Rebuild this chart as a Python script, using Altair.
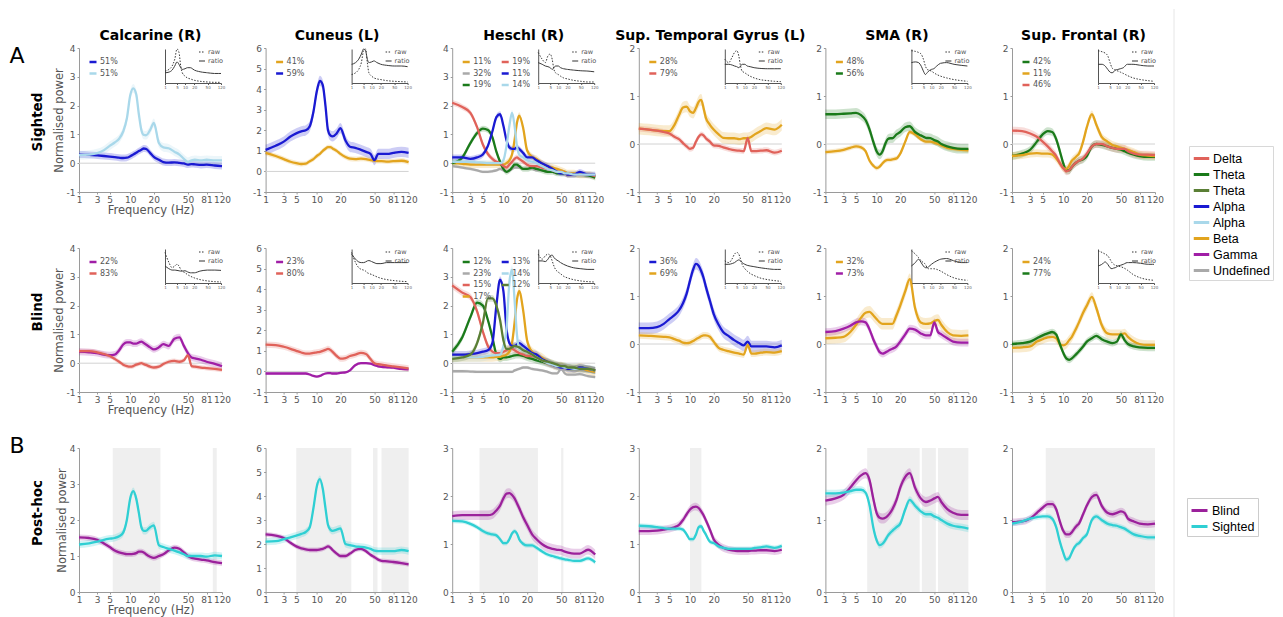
import altair as alt
import pandas as pd

# ---------------- data ----------------
F = [1, 2, 3, 4, 5, 6, 7, 8, 9, 10, 11, 12, 13, 14, 15, 16, 18, 20, 23, 26, 30, 35, 40, 45, 50, 55, 60, 70, 81, 100, 120]
XTICKS = [1, 3, 5, 10, 20, 50, 81, 120]
F_IN = [1, 2, 3, 4, 5, 6, 7, 8, 10, 12, 15, 20, 30, 50, 80, 120]
IN_TICKS = [1, 5, 10, 20, 50, 120]

REGIONS = ["Calcarine (R)", "Cuneus (L)", "Heschl (R)", "Sup. Temporal Gyrus (L)", "SMA (R)", "Sup. Frontal (R)"]
ROW_LABELS = ["Sighted", "Blind", "Post-hoc"]
YMAX_AB = [4, 6, 4, 2, 2, 2]
YMAX_POST = [4, 6, 3, 3, 2, 2]

BANDS = ["Delta", "Theta", "Theta ", "Alpha", "Alpha ", "Beta", "Gamma", "Undefined"]
BAND_COLORS = ["#e0625a", "#1a7a1a", "#5a7f35", "#1a1ad2", "#a9d8ea", "#e2a41e", "#a01ea6", "#a9a9a9"]
GROUPS = ["Blind", "Sighted"]
GROUP_COLORS = ["#9b219b", "#2fcfd3"]

# Sighted row
CALC_S_A1 = [0.30,0.29,0.27,0.25,0.23,0.21,0.19,0.18,0.19,0.24,0.30,0.36,0.42,0.47,0.51,0.50,0.36,0.22,0.12,0.04,0.02,0.03,0.01,-0.01,-0.05,-0.03,-0.04,-0.06,-0.05,-0.08,-0.10]
CALC_S_A2 = [0.28,0.30,0.35,0.45,0.60,0.72,0.85,1.10,1.55,2.35,2.60,2.40,1.70,1.15,0.98,0.97,1.15,1.40,0.70,0.55,0.52,0.40,0.30,0.15,0.05,0.10,0.12,0.10,0.12,0.10,0.10]
CUN_S_B = [0.90,0.75,0.60,0.47,0.40,0.36,0.38,0.50,0.60,0.75,0.85,1.00,1.10,1.18,1.18,1.12,1.00,0.85,0.70,0.62,0.60,0.62,0.60,0.55,0.52,0.50,0.50,0.48,0.50,0.52,0.45]
CUN_S_A = [1.05,1.25,1.45,1.70,1.85,1.95,2.00,2.20,2.90,3.90,4.40,4.20,3.20,2.00,1.75,1.70,1.85,2.10,1.50,1.20,1.15,1.05,0.95,0.85,0.55,0.85,0.85,0.85,0.90,0.95,0.90]
HES_S_BETA = [0.00,-0.02,-0.05,-0.05,-0.05,-0.05,-0.05,-0.05,-0.05,-0.05,0.00,0.10,0.30,0.80,1.40,1.65,1.20,0.45,0.22,0.15,0.00,-0.10,-0.15,-0.20,-0.25,-0.30,-0.35,-0.35,-0.40,-0.40,-0.45]
HES_S_DELTA = [2.10,1.95,1.75,1.25,0.65,0.32,0.15,0.05,0.00,-0.10,-0.15,-0.05,0.05,0.15,0.20,0.15,0.05,-0.05,-0.10,-0.10,-0.15,-0.20,-0.25,-0.30,-0.30,-0.35,-0.40,-0.40,-0.40,-0.40,-0.45]
HES_S_UND = [-0.10,-0.15,-0.20,-0.25,-0.30,-0.30,-0.28,-0.25,-0.20,-0.25,-0.30,-0.25,-0.20,-0.15,-0.15,-0.15,-0.20,-0.20,-0.20,-0.25,-0.25,-0.30,-0.30,-0.35,-0.35,-0.40,-0.40,-0.40,-0.40,-0.45,-0.45]
HES_S_ALPHA = [0.20,0.20,0.15,0.20,0.30,0.60,1.10,1.60,1.70,1.30,0.80,0.55,0.50,0.50,0.55,0.50,0.35,0.20,0.20,0.10,0.00,-0.10,-0.20,-0.30,-0.35,-0.35,-0.40,-0.40,-0.30,-0.40,-0.40]
HES_S_THETA = [0.00,0.20,0.70,1.05,1.20,1.15,0.90,0.40,0.05,-0.20,-0.30,-0.25,-0.15,-0.05,-0.05,-0.10,-0.20,-0.20,-0.15,-0.20,-0.25,-0.30,-0.30,-0.35,-0.35,-0.35,-0.40,-0.40,-0.40,-0.42,-0.50]
HES_S_ALPHA2 = [0.05,0.05,0.05,0.03,0.02,0.00,0.00,0.00,0.00,0.10,0.60,1.30,1.75,1.30,0.60,0.30,0.20,0.10,0.05,0.00,-0.10,-0.20,-0.25,-0.30,-0.30,-0.35,-0.35,-0.40,-0.40,-0.40,-0.40]
STG_S_BETA = [0.32,0.30,0.28,0.27,0.27,0.40,0.60,0.76,0.78,0.68,0.65,0.75,0.88,0.92,0.75,0.55,0.40,0.30,0.20,0.13,0.12,0.12,0.10,0.12,0.12,0.15,0.20,0.27,0.33,0.30,0.40]
STG_S_DELTA = [0.32,0.30,0.28,0.25,0.22,0.15,0.10,0.02,-0.05,-0.10,-0.08,0.05,0.15,0.20,0.18,0.12,0.05,-0.03,-0.04,-0.07,-0.10,-0.13,-0.14,-0.15,0.12,-0.15,-0.15,-0.14,-0.13,-0.18,-0.14]
SMA_S_BETA = [-0.17,-0.15,-0.12,-0.08,-0.05,-0.07,-0.15,-0.35,-0.45,-0.50,-0.47,-0.40,-0.35,-0.33,-0.33,-0.32,-0.30,-0.20,0.05,0.25,0.20,0.10,0.05,0.05,0.03,0.00,-0.03,-0.08,-0.10,-0.12,-0.13]
SMA_S_THETA = [0.62,0.62,0.63,0.64,0.65,0.60,0.50,0.30,0.05,-0.15,-0.22,-0.15,0.00,0.10,0.12,0.12,0.20,0.25,0.35,0.37,0.25,0.18,0.13,0.12,0.08,0.05,0.00,-0.05,-0.08,-0.10,-0.10]
SF_S_THETA = [-0.25,-0.20,-0.12,0.05,0.20,0.27,0.25,0.10,-0.15,-0.40,-0.55,-0.55,-0.48,-0.42,-0.38,-0.35,-0.32,-0.25,-0.05,0.00,-0.02,-0.05,-0.08,-0.10,-0.12,-0.15,-0.18,-0.22,-0.25,-0.27,-0.27]
SF_S_BETA = [-0.25,-0.23,-0.20,-0.19,-0.20,-0.20,-0.22,-0.30,-0.40,-0.50,-0.52,-0.45,-0.35,-0.30,-0.25,-0.20,0.05,0.35,0.62,0.40,0.15,0.05,-0.02,-0.05,-0.08,-0.10,-0.12,-0.17,-0.22,-0.24,-0.25]
SF_S_DELTA = [0.28,0.27,0.22,0.15,0.05,-0.05,-0.15,-0.25,-0.40,-0.50,-0.57,-0.55,-0.48,-0.42,-0.38,-0.35,-0.30,-0.20,-0.05,0.00,0.00,-0.05,-0.08,-0.10,-0.10,-0.10,-0.15,-0.20,-0.22,-0.22,-0.23]

# Blind row
CALC_B_GAMMA = [0.40,0.38,0.35,0.30,0.28,0.30,0.45,0.65,0.72,0.72,0.68,0.68,0.72,0.75,0.70,0.65,0.55,0.48,0.55,0.66,0.60,0.85,0.90,0.60,0.35,0.20,0.17,0.12,0.05,-0.02,-0.10]
CALC_B_DELTA = [0.42,0.42,0.38,0.32,0.25,0.15,0.05,-0.05,-0.10,-0.12,-0.10,-0.05,-0.02,0.00,-0.03,-0.06,-0.12,-0.15,-0.12,-0.03,0.05,0.08,0.05,0.10,0.28,-0.10,-0.12,-0.15,-0.17,-0.20,-0.23]
CUN_B_GAMMA = [-0.10,-0.10,-0.10,-0.10,-0.10,-0.10,-0.10,-0.15,-0.22,-0.25,-0.22,-0.15,-0.10,-0.08,-0.08,-0.10,-0.10,-0.07,-0.05,0.05,0.30,0.40,0.40,0.38,0.30,0.25,0.22,0.20,0.18,0.12,0.10]
CUN_B_DELTA = [1.30,1.28,1.20,1.10,1.00,0.92,0.87,0.87,0.90,0.93,0.95,1.00,1.05,1.10,1.05,0.95,0.75,0.62,0.65,0.75,0.82,0.90,0.85,0.60,0.40,0.35,0.33,0.28,0.25,0.20,0.15]
HES_B_THETA = [0.40,0.90,1.60,2.10,2.00,1.50,0.90,0.30,0.15,0.20,0.20,0.22,0.25,0.27,0.28,0.28,0.25,0.20,0.15,0.10,0.05,0.00,-0.05,-0.10,-0.10,-0.15,-0.15,-0.20,-0.15,-0.20,-0.25]
HES_B_ALPHA = [0.30,0.30,0.32,0.35,0.40,0.45,0.70,2.00,2.90,2.50,1.20,0.70,0.60,0.60,0.65,0.70,0.60,0.50,0.35,0.30,0.15,0.05,-0.05,-0.10,-0.15,-0.15,-0.20,-0.20,-0.15,-0.20,-0.25]
HES_B_UND = [-0.28,-0.28,-0.29,-0.30,-0.30,-0.30,-0.30,-0.30,-0.30,-0.30,-0.30,-0.30,-0.30,-0.25,-0.22,-0.20,-0.15,-0.15,-0.20,-0.22,-0.25,-0.30,-0.35,-0.35,-0.20,-0.35,-0.40,-0.40,-0.38,-0.45,-0.48]
HES_B_ALPHA2 = [0.20,0.20,0.20,0.20,0.22,0.25,0.27,0.28,0.30,0.60,1.20,2.80,3.25,2.20,1.00,0.50,0.45,0.40,0.30,0.20,0.10,0.00,-0.05,-0.10,-0.10,-0.15,-0.15,-0.20,-0.20,-0.20,-0.25]
HES_B_DELTA = [2.70,2.45,2.30,1.80,1.10,0.60,0.40,0.35,0.35,0.40,0.45,0.50,0.50,0.45,0.40,0.35,0.30,0.25,0.25,0.20,0.10,0.00,-0.05,-0.10,-0.10,-0.15,-0.15,-0.20,-0.20,-0.20,-0.25]
HES_B_THETA2 = [0.15,0.20,0.30,0.70,1.40,2.25,2.25,2.00,1.50,0.80,0.50,0.50,0.55,0.60,0.58,0.55,0.45,0.40,0.30,0.20,0.10,0.05,0.00,-0.05,-0.10,-0.10,-0.15,-0.15,-0.20,-0.20,-0.25]
HES_B_BETA = [0.20,0.20,0.20,0.20,0.20,0.20,0.20,0.22,0.23,0.25,0.30,0.40,0.70,1.40,2.20,2.50,1.80,0.80,0.40,0.30,0.20,0.05,-0.05,-0.10,-0.10,-0.15,-0.20,-0.20,-0.15,-0.25,-0.30]
STG_B_ALPHA = [0.33,0.33,0.35,0.42,0.52,0.60,0.70,0.85,1.05,1.32,1.55,1.67,1.63,1.52,1.38,1.20,0.90,0.63,0.40,0.25,0.17,0.08,0.02,-0.03,0.05,-0.05,-0.05,-0.05,-0.05,-0.07,-0.03]
STG_B_BETA = [0.18,0.17,0.16,0.15,0.14,0.10,0.07,0.03,0.02,0.03,0.06,0.10,0.13,0.16,0.18,0.18,0.15,0.05,-0.08,-0.12,-0.15,-0.18,-0.20,-0.22,-0.02,-0.20,-0.20,-0.18,-0.17,-0.18,-0.15]
SMA_B_BETA = [0.12,0.13,0.15,0.25,0.40,0.55,0.65,0.67,0.60,0.52,0.45,0.42,0.42,0.42,0.42,0.42,0.60,0.80,1.10,1.35,0.75,0.45,0.42,0.43,0.48,0.50,0.40,0.25,0.18,0.17,0.18]
SMA_B_GAMMA = [0.25,0.27,0.32,0.38,0.45,0.47,0.45,0.30,0.10,-0.05,-0.17,-0.20,-0.18,-0.15,-0.12,-0.10,-0.05,0.05,0.20,0.32,0.30,0.22,0.18,0.18,0.45,0.25,0.20,0.12,0.05,0.03,0.03]
SF_B_BETA = [-0.08,-0.07,-0.05,0.05,0.10,0.14,0.15,0.12,0.00,-0.03,0.00,0.08,0.15,0.25,0.35,0.45,0.65,0.80,0.98,0.75,0.40,0.22,0.20,0.20,0.20,0.22,0.15,0.05,0.00,-0.02,-0.02]
SF_B_THETA = [0.00,0.02,0.05,0.12,0.18,0.22,0.25,0.20,0.00,-0.18,-0.30,-0.33,-0.30,-0.25,-0.20,-0.15,-0.05,0.05,0.12,0.17,0.10,0.05,0.02,0.05,0.20,0.08,0.00,-0.05,-0.07,-0.08,-0.08]

# Post-hoc row
CALC_P_BLIND = [1.52,1.50,1.45,1.35,1.25,1.15,1.10,1.07,1.05,1.05,1.06,1.08,1.12,1.12,1.10,1.05,0.98,0.95,1.00,1.05,1.15,1.23,1.20,1.10,1.00,0.95,0.93,0.90,0.88,0.83,0.80]
CALC_P_SIGHTED = [1.32,1.35,1.40,1.45,1.48,1.50,1.55,1.65,2.00,2.60,2.80,2.60,2.20,1.80,1.70,1.70,1.80,1.85,1.30,1.25,1.20,1.15,1.10,1.05,1.00,1.00,1.00,1.00,0.98,1.02,1.00]
CUN_P_BLIND = [2.40,2.35,2.25,2.05,1.90,1.82,1.78,1.75,1.75,1.75,1.77,1.80,1.85,1.90,1.85,1.75,1.60,1.50,1.50,1.60,1.75,1.80,1.70,1.55,1.45,1.35,1.30,1.28,1.25,1.20,1.15]
CUN_P_SIGHTED = [2.10,2.12,2.20,2.28,2.35,2.42,2.50,2.70,3.50,4.40,4.70,4.30,3.50,2.80,2.60,2.55,2.60,2.65,2.00,1.95,1.90,1.88,1.85,1.80,1.72,1.70,1.70,1.70,1.70,1.75,1.70]
HES_P_BLIND = [1.58,1.60,1.60,1.60,1.60,1.60,1.62,1.70,1.80,1.95,2.05,2.06,2.02,1.95,1.85,1.75,1.55,1.40,1.20,1.10,1.00,0.93,0.90,0.88,0.87,0.84,0.82,0.80,0.80,0.88,0.78]
HES_P_SIGHTED = [1.48,1.47,1.42,1.35,1.27,1.22,1.20,1.18,1.10,1.02,1.02,1.10,1.22,1.27,1.22,1.10,1.00,0.97,0.97,0.92,0.85,0.78,0.75,0.72,0.70,0.68,0.67,0.65,0.65,0.70,0.62]
STG_P_BLIND = [1.27,1.27,1.28,1.30,1.32,1.35,1.40,1.50,1.62,1.72,1.77,1.78,1.75,1.68,1.60,1.50,1.30,1.10,0.98,0.92,0.88,0.86,0.85,0.85,0.85,0.86,0.86,0.87,0.87,0.85,0.88]
STG_P_SIGHTED = [1.38,1.37,1.35,1.33,1.32,1.32,1.32,1.30,1.20,1.10,1.10,1.20,1.35,1.37,1.28,1.20,1.05,1.02,0.95,0.92,0.90,0.90,0.90,0.90,0.90,0.90,0.92,0.93,0.95,0.92,0.96]
SMA_P_BLIND = [1.27,1.30,1.35,1.45,1.55,1.62,1.65,1.55,1.30,1.10,1.03,1.02,1.03,1.06,1.10,1.15,1.28,1.45,1.60,1.65,1.45,1.30,1.25,1.27,1.30,1.32,1.25,1.15,1.10,1.07,1.07]
SMA_P_SIGHTED = [1.37,1.37,1.38,1.40,1.42,1.42,1.38,1.20,0.90,0.72,0.65,0.67,0.72,0.78,0.82,0.85,0.90,0.95,1.15,1.28,1.20,1.12,1.08,1.08,1.05,1.03,1.00,0.95,0.92,0.90,0.88]
SF_P_BLIND = [0.97,0.98,1.02,1.10,1.17,1.22,1.22,1.15,0.98,0.85,0.80,0.80,0.83,0.88,0.92,0.95,1.08,1.20,1.32,1.35,1.20,1.10,1.08,1.10,1.12,1.10,1.02,0.98,0.95,0.94,0.95]
SF_P_SIGHTED = [0.95,0.98,1.02,1.04,1.05,1.05,1.02,0.90,0.70,0.55,0.45,0.47,0.55,0.62,0.66,0.68,0.75,0.80,1.00,1.05,1.00,0.95,0.93,0.92,0.90,0.88,0.85,0.80,0.78,0.76,0.76]

# significant frequency ranges (shaded, post-hoc)
SHADES = [
    [(5.6, 24), (95, 105)],
    [(5, 27), (48, 54), (60, 120)],
    [(4.4, 27), (50, 53)],
    [(10, 14.1)],
    [(7.4, 34), (36, 52), (55, 120)],
    [(5.6, 120)],
]

# inset spectra (raw / ratio), normalised to 0..1
INS_RAW_S = [
    [0.35,0.40,0.50,0.70,1.00,0.90,0.50,0.30,0.20,0.15,0.12,0.08,0.05,0.03,0.02,0.02],
    [0.25,0.30,0.40,0.60,0.95,1.00,0.60,0.30,0.20,0.15,0.12,0.10,0.07,0.05,0.04,0.03],
    [0.90,0.70,0.60,0.80,0.85,0.70,0.40,0.30,0.25,0.20,0.15,0.12,0.08,0.05,0.03,0.03],
    [0.70,0.60,0.75,0.90,0.95,0.80,0.50,0.35,0.30,0.25,0.20,0.15,0.10,0.07,0.05,0.04],
    [0.95,0.93,0.90,0.85,0.70,0.50,0.40,0.38,0.35,0.30,0.25,0.20,0.15,0.10,0.07,0.05],
    [0.95,0.92,0.88,0.80,0.60,0.45,0.40,0.38,0.35,0.32,0.28,0.22,0.15,0.10,0.07,0.05],
]
INS_RATIO_S = [
    [0.30,0.32,0.38,0.50,0.62,0.55,0.45,0.40,0.42,0.45,0.45,0.38,0.33,0.30,0.28,0.28],
    [0.55,0.60,0.70,0.85,1.00,0.95,0.70,0.60,0.62,0.65,0.60,0.55,0.52,0.50,0.50,0.48],
    [0.60,0.55,0.50,0.48,0.45,0.40,0.45,0.50,0.50,0.45,0.42,0.40,0.38,0.36,0.35,0.33],
    [0.55,0.55,0.53,0.50,0.48,0.45,0.50,0.55,0.55,0.50,0.48,0.45,0.43,0.42,0.42,0.42],
    [0.60,0.62,0.60,0.50,0.35,0.25,0.30,0.35,0.40,0.42,0.50,0.58,0.60,0.55,0.52,0.50],
    [0.55,0.55,0.50,0.40,0.32,0.30,0.33,0.38,0.40,0.42,0.45,0.55,0.55,0.52,0.50,0.50],
]
INS_RAW_B = [
    [0.90,0.60,0.45,0.50,0.55,0.50,0.40,0.35,0.30,0.25,0.20,0.15,0.10,0.06,0.04,0.03],
    [0.90,0.60,0.45,0.40,0.38,0.35,0.30,0.28,0.25,0.22,0.18,0.14,0.10,0.07,0.05,0.04],
    [0.85,0.70,0.80,0.85,0.80,0.65,0.50,0.40,0.32,0.27,0.20,0.15,0.10,0.06,0.04,0.03],
    [0.65,0.60,0.70,0.85,0.90,0.85,0.70,0.55,0.42,0.35,0.28,0.22,0.15,0.10,0.07,0.05],
    [0.95,0.85,0.75,0.65,0.60,0.55,0.45,0.42,0.42,0.42,0.40,0.35,0.25,0.15,0.10,0.08],
    [0.95,0.90,0.85,0.80,0.70,0.60,0.55,0.52,0.50,0.48,0.45,0.38,0.25,0.15,0.10,0.08],
]
INS_RATIO_B = [
    [0.50,0.42,0.38,0.38,0.37,0.36,0.35,0.35,0.36,0.33,0.30,0.30,0.35,0.38,0.38,0.37],
    [0.85,0.70,0.62,0.60,0.60,0.62,0.65,0.66,0.63,0.60,0.57,0.57,0.60,0.60,0.60,0.60],
    [0.65,0.65,0.63,0.70,0.80,0.82,0.75,0.70,0.65,0.60,0.55,0.50,0.45,0.42,0.40,0.40],
    [0.55,0.55,0.57,0.60,0.65,0.68,0.65,0.60,0.55,0.52,0.50,0.48,0.45,0.42,0.40,0.40],
    [0.50,0.60,0.70,0.60,0.50,0.45,0.45,0.48,0.55,0.60,0.65,0.70,0.72,0.65,0.60,0.60],
    [0.50,0.55,0.62,0.55,0.45,0.42,0.44,0.45,0.50,0.52,0.55,0.60,0.60,0.58,0.55,0.55],
]

# panels: (band, percentage, values, half-width of band) -- legend order is column-major
SIGHTED = [
    [("Alpha", "51%", CALC_S_A1, 0.12), ("Alpha ", "51%", CALC_S_A2, 0.15)],
    [("Beta", "41%", CUN_S_B, 0.12), ("Alpha", "59%", CUN_S_A, 0.25)],
    [("Beta", "11%", HES_S_BETA, 0.12), ("Undefined", "32%", HES_S_UND, 0.05), ("Theta", "19%", HES_S_THETA, 0.1),
     ("Delta", "19%", HES_S_DELTA, 0.1), ("Alpha", "11%", HES_S_ALPHA, 0.1), ("Alpha ", "14%", HES_S_ALPHA2, 0.1)],
    [("Beta", "28%", STG_S_BETA, 0.12), ("Delta", "79%", STG_S_DELTA, 0.06)],
    [("Beta", "48%", SMA_S_BETA, 0.05), ("Theta", "56%", SMA_S_THETA, 0.1)],
    [("Theta", "42%", SF_S_THETA, 0.08), ("Beta", "11%", SF_S_BETA, 0.08), ("Delta", "46%", SF_S_DELTA, 0.08)],
]
BLIND = [
    [("Gamma", "22%", CALC_B_GAMMA, 0.12), ("Delta", "83%", CALC_B_DELTA, 0.08)],
    [("Gamma", "23%", CUN_B_GAMMA, 0.06), ("Delta", "80%", CUN_B_DELTA, 0.15)],
    [("Theta", "12%", HES_B_THETA, 0.12), ("Undefined", "23%", HES_B_UND, 0.05), ("Delta", "15%", HES_B_DELTA, 0.12),
     ("Beta", "17%", HES_B_BETA, 0.15), ("Alpha", "13%", HES_B_ALPHA, 0.12), ("Alpha ", "14%", HES_B_ALPHA2, 0.15),
     ("Theta ", "12%", HES_B_THETA2, 0.12)],
    [("Alpha", "36%", STG_B_ALPHA, 0.12), ("Beta", "69%", STG_B_BETA, 0.07)],
    [("Beta", "32%", SMA_B_BETA, 0.12), ("Gamma", "73%", SMA_B_GAMMA, 0.08)],
    [("Beta", "24%", SF_B_BETA, 0.1), ("Theta", "77%", SF_B_THETA, 0.07)],
]
POSTHOC = [
    [("Blind", CALC_P_BLIND, 0.08), ("Sighted", CALC_P_SIGHTED, 0.1)],
    [("Blind", CUN_P_BLIND, 0.1), ("Sighted", CUN_P_SIGHTED, 0.15)],
    [("Blind", HES_P_BLIND, 0.1), ("Sighted", HES_P_SIGHTED, 0.05)],
    [("Blind", STG_P_BLIND, 0.08), ("Sighted", STG_P_SIGHTED, 0.05)],
    [("Blind", SMA_P_BLIND, 0.07), ("Sighted", SMA_P_SIGHTED, 0.05)],
    [("Blind", SF_P_BLIND, 0.05), ("Sighted", SF_P_SIGHTED, 0.04)],
]

# ---------------- layout constants ----------------
W, H = 143, 144
COLOR_OF = dict(zip(BANDS, BAND_COLORS))
COLOR_OF.update(dict(zip(GROUPS, GROUP_COLORS)))
ROW_LABEL_Y = [74, 64, 65]
FONT = "DejaVu Sans"


def xscale():
    return alt.Scale(type="symlog", constant=2.5, domain=[1, 120], nice=False)


def build_panel(r, c):
    rows, keys, cols = [], [], []
    if r < 2:
        ymin, ymax = -1, YMAX_AB[c]
        specs = (SIGHTED if r == 0 else BLIND)[c]
        for i, (band, pct, vals, err) in enumerate(specs):
            key = f"{i}|{pct}"
            keys.append(key)
            cols.append(COLOR_OF[band])
            for f, v in zip(F, vals):
                rows.append({"f": f, "v": v, "lo": v - err, "hi": v + err, "key": key, "grp": key + "~"})
    else:
        ymin, ymax = 0, YMAX_POST[c]
        specs = POSTHOC[c]
        for name, vals, err in specs:
            keys.append(name)
            cols.append(COLOR_OF[name])
            for f, v in zip(F, vals):
                rows.append({"f": f, "v": v, "lo": v - err, "hi": v + err, "key": name, "grp": name + "~"})
    df = pd.DataFrame(rows)
    fill_keys = [k + "~" for k in keys]

    xs = xscale()
    ys = alt.Scale(domain=[ymin, ymax], nice=False, zero=False)
    xaxis = alt.Axis(values=XTICKS, title="Frequency (Hz)" if c == 0 else None, orient="bottom",
                     labelOverlap=False, labelFlush=False, tickSize=2, labelPadding=1, titlePadding=0)
    yaxis = alt.Axis(values=list(range(ymin, ymax + 1)), title="Normalised power" if c == 0 else None,
                     orient="left", tickSize=2, labelOverlap=False, labelExpr="datum.value")
    X = alt.X("f:Q", scale=xs, axis=xaxis)

    layers = []
    if r == 2:
        sdf = pd.DataFrame({"a": [s[0] for s in SHADES[c]], "b": [s[1] for s in SHADES[c]]})
        layers.append(alt.Chart(sdf).mark_rect(color="#efefef").encode(
            x=alt.X("a:Q", scale=xs, axis=xaxis), x2="b:Q"))
    else:
        layers.append(alt.Chart(pd.DataFrame({"z": [0]})).mark_rule(color="#d2d2d2", strokeWidth=1).encode(
            y=alt.Y("z:Q", scale=ys, axis=yaxis)))

    layers.append(alt.Chart(df).mark_area(fillOpacity=0.22, interpolate="monotone").encode(
        x=X, y=alt.Y("lo:Q", scale=ys, axis=yaxis), y2="hi:Q",
        fill=alt.Fill("grp:N", scale=alt.Scale(domain=fill_keys, range=cols), legend=None)))

    if r < 2:
        lg = dict(orient="none", legendX=9, legendY=9, title=None,
                  labelExpr="split(datum.label, '|')[1]", labelFontSize=8, labelFont=FONT,
                  labelColor="#555", symbolType="stroke", symbolSize=49, symbolStrokeWidth=2.5,
                  rowPadding=1.5, labelOffset=2, padding=0)
        if c == 2:
            lg.update(columns=2, columnPadding=5)
        line_enc = alt.Stroke("key:N", scale=alt.Scale(domain=keys, range=cols), legend=alt.Legend(**lg))
    elif c == 5:
        line_enc = alt.Stroke("key:N", scale=alt.Scale(domain=keys, range=cols),
                              legend=alt.Legend(orient="none", legendX=175, legendY=50, title=None,
                                                labelFont="Liberation Sans", labelFontSize=12.5,
                                                labelColor="black", symbolType="stroke", symbolSize=256,
                                                symbolStrokeWidth=3, rowPadding=0, labelOffset=3, padding=3,
                                                fillColor="white", strokeColor="#cccccc"))
    else:
        line_enc = alt.Stroke("key:N", scale=alt.Scale(domain=keys, range=cols), legend=None)

    layers.append(alt.Chart(df).mark_line(strokeWidth=2.3, interpolate="monotone").encode(
        x=X, y=alt.Y("v:Q", scale=ys, axis=yaxis), stroke=line_enc))

    if c == 0:
        layers.append(alt.Chart(pd.DataFrame({"t": [ROW_LABELS[r]]})).mark_text(
            angle=270, fontSize=13.5, fontWeight="bold", font=FONT, color="black",
            align="center", baseline="middle").encode(
            x=alt.value(-41), y=alt.value(ROW_LABEL_Y[r]), text="t:N"))
        if r in (0, 2):
            layers.append(alt.Chart(pd.DataFrame({"t": ["A" if r == 0 else "B"]})).mark_text(
                fontSize=22, font=FONT, color="black", align="center", baseline="middle").encode(
                x=alt.value(-62), y=alt.value(8 if r == 0 else -2), text="t:N"))

    if r == 0 and c == 5:
        bdf = pd.DataFrame({"b": BANDS})
        layers.append(alt.Chart(bdf).mark_point(opacity=0).encode(
            x=alt.value(0), y=alt.value(0),
            color=alt.Color("b:N", scale=alt.Scale(domain=BANDS, range=BAND_COLORS),
                            legend=alt.Legend(orient="none", legendX=177, legendY=98, title=None,
                                              labelFont="Liberation Sans", labelFontSize=12.5,
                                              labelColor="black", symbolType="stroke", symbolSize=240,
                                              symbolStrokeWidth=3, symbolOpacity=1, rowPadding=0,
                                              labelOffset=2, padding=3, fillColor="white",
                                              strokeColor="#d8d8d8"))))
    if r == 1 and c == 5:
        layers.append(alt.Chart(pd.DataFrame({"d": [0]})).mark_rule(color="#e6e6e6", strokeWidth=1).encode(
            x=alt.value(162), y=alt.value(-239), y2=alt.value(370)))

    main = alt.layer(*layers)

    if r < 2:
        raw = (INS_RAW_S if r == 0 else INS_RAW_B)[c]
        ratio = (INS_RATIO_S if r == 0 else INS_RATIO_B)[c]
        idf = pd.DataFrame({"f": F_IN + F_IN, "v": raw + ratio, "k": ["raw"] * len(F_IN) + ["ratio"] * len(F_IN)})
        inset = alt.Chart(idf).mark_line(color="#3a3a3a", strokeWidth=1, interpolate="monotone").encode(
            x=alt.X("f:Q", scale=alt.Scale(type="symlog", constant=2.5, domain=[1, 120], range=[86, 142], nice=False),
                    axis=alt.Axis(values=IN_TICKS, orient="bottom", offset=-109, labelFontSize=4, labelPadding=1,
                                  tickSize=1.5, title=None, domainColor="#555", tickColor="#555",
                                  labelColor="#666", labelOverlap=False, labelFlush=False)),
            y=alt.Y("v:Q", scale=alt.Scale(domain=[0, 1], range=[35, 1], nice=False),
                    axis=alt.Axis(orient="left", offset=-86, labels=False, ticks=False, title=None,
                                  domainColor="#555")),
            strokeDash=alt.StrokeDash("k:N", scale=alt.Scale(domain=["raw", "ratio"], range=[[1.5, 1.5], [4, 0]]),
                                      legend=alt.Legend(orient="none", legendX=119, legendY=0, title=None,
                                                        labelFontSize=6.5, labelFont=FONT, labelColor="#555",
                                                        symbolType="stroke", symbolSize=36, symbolStrokeWidth=1.2,
                                                        symbolStrokeColor="#333", rowPadding=1, labelOffset=2,
                                                        padding=0)))
        panel = alt.layer(main, inset).resolve_scale(x="independent", y="independent")
    else:
        panel = main

    props = dict(width=W, height=H)
    if r == 0:
        props["title"] = alt.TitleParams(REGIONS[c], fontSize=14, font=FONT, fontWeight="bold", frame="group",
                                         anchor="middle", offset=1, color="black")
    return panel.properties(**props)


RES = dict(x="independent", y="independent", fill="independent", stroke="independent",
           color="independent", strokeDash="independent")

panels = [build_panel(r, c) for r in range(3) for c in range(6)]

chart = (alt.concat(*panels, columns=6, spacing={"row": 56, "column": 43.6}, bounds="flush")
         .resolve_scale(**RES)
         .properties(padding={"left": 1, "top": 0, "right": 0, "bottom": 0})
         .configure_view(strokeWidth=0)
         .configure_axis(labelFont=FONT, labelFontSize=9, labelColor="#555", domainColor="#9a9a9a",
                         tickColor="#9a9a9a", titleFont=FONT, titleFontSize=11.5, titleFontWeight="normal",
                         titleColor="#555", grid=False, labelPadding=2, titlePadding=2))

chart.save("out.html", embed_options={"renderer": "svg", "actions": False})
